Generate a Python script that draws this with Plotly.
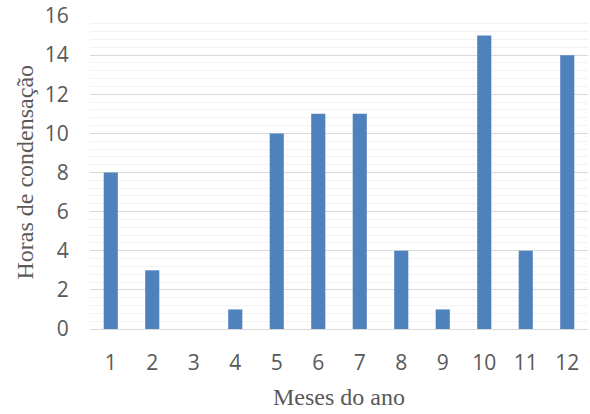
import plotly.graph_objects as go

months = [1, 2, 3, 4, 5, 6, 7, 8, 9, 10, 11, 12]
hours = [8, 3, 0, 1, 10, 11, 11, 4, 1, 15, 4, 14]
x_title = "Meses do ano"
y_title = "Horas de condensação"

fig = go.Figure()
fig.add_trace(go.Bar(x=months, y=hours, marker=dict(color="#4F81BD", line=dict(width=0))))

tick_font = dict(family="Open Sans", size=21, color="#595959")
fig.update_layout(
    width=590, height=414,
    margin=dict(l=90, r=2, t=16, b=85),
    paper_bgcolor="white", plot_bgcolor="white",
    bargap=0.66,
    showlegend=False,
    xaxis=dict(range=[0.5, 12.5], tickmode="linear", dtick=1, tick0=1,
               showgrid=False, zeroline=False, showline=False,
               tickfont=tick_font, ticks="outside", ticklen=15, tickcolor="rgba(0,0,0,0)"),
    yaxis=dict(range=[0, 16], dtick=2, showgrid=True, gridcolor="#d9d9d9", gridwidth=1,
               zeroline=True, zerolinecolor="#d9d9d9", zerolinewidth=1,
               minor=dict(dtick=0.4, showgrid=True, gridcolor="#f2f2f2", gridwidth=1),
               tickfont=tick_font, ticks="outside", ticklen=16, tickcolor="rgba(0,0,0,0)"),
    annotations=[
        dict(text=y_title, xref="paper", yref="paper", x=0, y=0.5, xanchor="center", yanchor="middle",
             xshift=-66, textangle=-90, showarrow=False,
             font=dict(family="Liberation Serif", size=24, color="#595959")),
        dict(text=x_title, xref="paper", yref="paper", x=0.5, y=0, xanchor="center", yanchor="middle",
             yshift=-68, showarrow=False,
             font=dict(family="Liberation Serif", size=24, color="#595959")),
    ],
)

fig.write_html("out.html", config={"displayModeBar": False},
               post_script="document.body.style.margin='0';")
